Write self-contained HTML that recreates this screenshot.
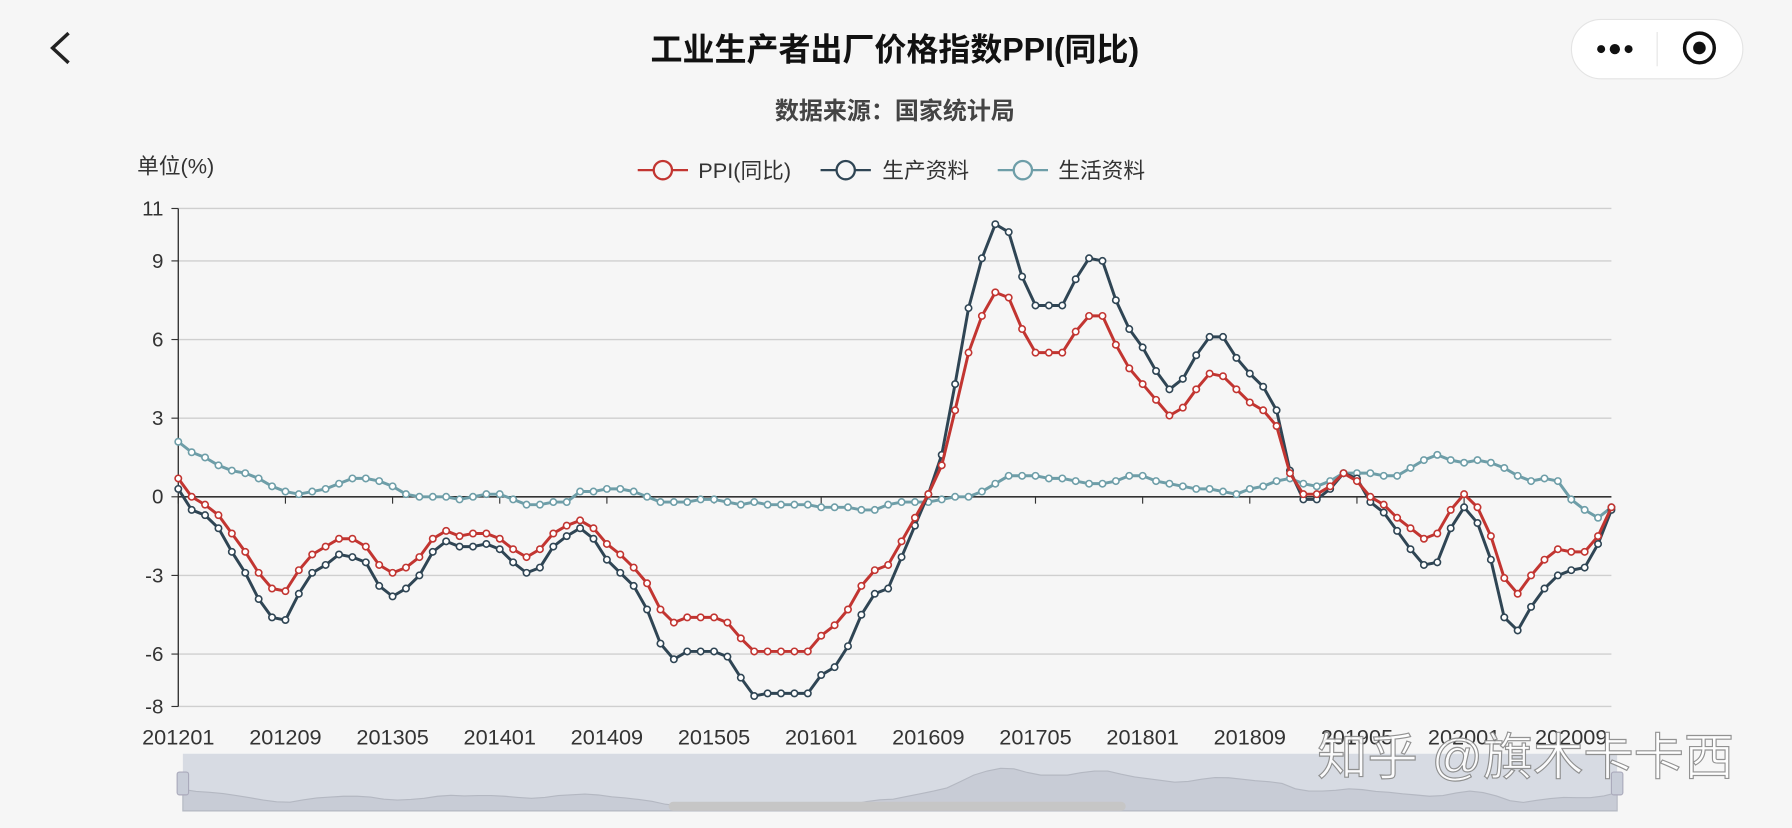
<!DOCTYPE html>
<html><head><meta charset="utf-8"><style>
html,body{margin:0;padding:0;background:#f6f6f6;}
svg{display:block;font-family:"Liberation Sans","Noto Sans CJK SC",sans-serif;}
</style></head><body>
<svg id="s" width="1792" height="828" viewBox="0 0 1568 725" preserveAspectRatio="none" xmlns="http://www.w3.org/2000/svg">
<rect width="1568" height="725" fill="#f6f6f6"/>
<path d="M60 29 L46 42 L60 55" fill="none" stroke="#222" stroke-width="3"/>
<text x="783" y="53" text-anchor="middle" font-size="28" font-weight="bold" fill="#111">工业生产者出厂价格指数PPI(同比)</text>
<rect x="1375" y="17" width="150" height="52" rx="26" fill="#fff" stroke="#e4e4e4"/>
<line x1="1450" y1="28" x2="1450" y2="58" stroke="#e4e4e4"/>
<circle cx="1401" cy="43" r="3.5" fill="#111"/><circle cx="1413" cy="43" r="4.5" fill="#111"/><circle cx="1425" cy="43" r="3.5" fill="#111"/>
<circle cx="1487" cy="42" r="13" fill="none" stroke="#111" stroke-width="3"/><circle cx="1487" cy="42" r="5.5" fill="#111"/>
<text x="783" y="104" text-anchor="middle" font-size="21" font-weight="bold" fill="#444">数据来源：国家统计局</text>
<text x="120" y="152" font-size="19" fill="#333">单位(%)</text>
<g font-size="19" fill="#333">
<line x1="558" y1="149" x2="602" y2="149" stroke="#c23531" stroke-width="2"/><circle cx="580" cy="149" r="8" fill="#f6f6f6" stroke="#c23531" stroke-width="2"/><text x="611" y="156">PPI(同比)</text>
<line x1="718" y1="149" x2="762" y2="149" stroke="#2f4554" stroke-width="2"/><circle cx="740" cy="149" r="8" fill="#f6f6f6" stroke="#2f4554" stroke-width="2"/><text x="772" y="156">生产资料</text>
<line x1="873" y1="149" x2="917" y2="149" stroke="#6e9ea8" stroke-width="2"/><circle cx="895" cy="149" r="8" fill="#f6f6f6" stroke="#6e9ea8" stroke-width="2"/><text x="926" y="156">生活资料</text>
</g>
<g id="grid"></g>
<g id="series"></g>
<rect x="160" y="660" width="1255" height="50" fill="#d7dbe3"/>
<path id="zshadow" fill="#c8ccd6" stroke="#b4b8c2" stroke-width="1"/>
<rect x="155" y="676" width="10" height="20" rx="2" fill="#c8cdd8" stroke="#aab"/>
<rect x="1410" y="676" width="10" height="20" rx="2" fill="#c8cdd8" stroke="#aab"/>
<rect x="585" y="702" width="400" height="8" rx="4" fill="#c6c6c6"/>
<text x="1335" y="678" text-anchor="middle" font-size="44" fill="#fff" stroke="#888" stroke-width="1" opacity="0.9">知乎 @旗木卡卡西</text>
</svg>
<script>
var ppi=[0.7,0.0,-0.3,-0.7,-1.4,-2.1,-2.9,-3.5,-3.6,-2.8,-2.2,-1.9,-1.6,-1.6,-1.9,-2.6,-2.9,-2.7,-2.3,-1.6,-1.3,-1.5,-1.4,-1.4,-1.6,-2.0,-2.3,-2.0,-1.4,-1.1,-0.9,-1.2,-1.8,-2.2,-2.7,-3.3,-4.3,-4.8,-4.6,-4.6,-4.6,-4.8,-5.4,-5.9,-5.9,-5.9,-5.9,-5.9,-5.3,-4.9,-4.3,-3.4,-2.8,-2.6,-1.7,-0.8,0.1,1.2,3.3,5.5,6.9,7.8,7.6,6.4,5.5,5.5,5.5,6.3,6.9,6.9,5.8,4.9,4.3,3.7,3.1,3.4,4.1,4.7,4.6,4.1,3.6,3.3,2.7,0.9,0.1,0.1,0.4,0.9,0.6,0.0,-0.3,-0.8,-1.2,-1.6,-1.4,-0.5,0.1,-0.4,-1.5,-3.1,-3.7,-3.0,-2.4,-2.0,-2.1,-2.1,-1.5,-0.4];
var prod=[0.3,-0.5,-0.7,-1.2,-2.1,-2.9,-3.9,-4.6,-4.7,-3.7,-2.9,-2.6,-2.2,-2.3,-2.5,-3.4,-3.8,-3.5,-3.0,-2.1,-1.7,-1.9,-1.9,-1.8,-2.0,-2.5,-2.9,-2.7,-1.9,-1.5,-1.2,-1.6,-2.4,-2.9,-3.4,-4.3,-5.6,-6.2,-5.9,-5.9,-5.9,-6.1,-6.9,-7.6,-7.5,-7.5,-7.5,-7.5,-6.8,-6.5,-5.7,-4.5,-3.7,-3.5,-2.3,-1.1,0.1,1.6,4.3,7.2,9.1,10.4,10.1,8.4,7.3,7.3,7.3,8.3,9.1,9.0,7.5,6.4,5.7,4.8,4.1,4.5,5.4,6.1,6.1,5.3,4.7,4.2,3.3,1.0,-0.1,-0.1,0.3,0.9,0.7,-0.2,-0.6,-1.3,-2.0,-2.6,-2.5,-1.2,-0.4,-1.0,-2.4,-4.6,-5.1,-4.2,-3.5,-3.0,-2.8,-2.7,-1.8,-0.5];
var liv=[2.1,1.7,1.5,1.2,1.0,0.9,0.7,0.4,0.2,0.1,0.2,0.3,0.5,0.7,0.7,0.6,0.4,0.1,0.0,0.0,0.0,-0.1,0.0,0.1,0.1,-0.1,-0.3,-0.3,-0.2,-0.2,0.2,0.2,0.3,0.3,0.2,0.0,-0.2,-0.2,-0.2,-0.1,-0.1,-0.2,-0.3,-0.2,-0.3,-0.3,-0.3,-0.3,-0.4,-0.4,-0.4,-0.5,-0.5,-0.3,-0.2,-0.2,-0.2,-0.1,0.0,0.0,0.2,0.5,0.8,0.8,0.8,0.7,0.7,0.6,0.5,0.5,0.6,0.8,0.8,0.6,0.5,0.4,0.3,0.3,0.2,0.1,0.3,0.4,0.6,0.7,
0.5,0.4,0.6,0.9,0.9,0.9,0.8,0.8,1.1,1.4,1.6,1.4,1.3,1.4,1.3,1.1,0.8,0.6,0.7,0.6,-0.1,-0.5,-0.8,-0.4];
var NS="http://www.w3.org/2000/svg";
function X(i){return 156+i*(1410-156)/107;}
function Y(v){return 435-v*22.95;}
function el(t,a,p){var e=document.createElementNS(NS,t);for(var k in a)e.setAttribute(k,a[k]);if(p)p.appendChild(e);return e;}
var g=document.getElementById('grid');
[11,9,6,3,-3,-6,-8].forEach(function(v){el('line',{x1:156,x2:1410,y1:Y(v),y2:Y(v),stroke:'#cfcfcf','stroke-width':1.2},g);});
[11,9,6,3,0,-3,-6,-8].forEach(function(v){el('line',{x1:150,x2:156,y1:Y(v),y2:Y(v),stroke:'#333'},g);var t=el('text',{x:143,y:Y(v)+6,'text-anchor':'end','font-size':18,fill:'#333'},g);t.textContent=v;});
el('line',{x1:156,x2:156,y1:Y(11),y2:Y(-8),stroke:'#333','stroke-width':1.2},g);
el('line',{x1:156,x2:1410,y1:435,y2:435,stroke:'#333','stroke-width':1.5},g);
var labs=['201201','201209','201305','201401','201409','201505','201601','201609','201705','201801','201809','201905','202001','202009'];
labs.forEach(function(l,k){var x=X(k*8);el('line',{x1:x,x2:x,y1:435,y2:441,stroke:'#333'},g);var t=el('text',{x:x,y:652,'text-anchor':'middle','font-size':19,fill:'#333'},g);t.textContent=l;});
var s=document.getElementById('series');
[[liv,'#6e9ea8'],[prod,'#2f4554'],[ppi,'#c23531']].forEach(function(d){
 var pts=d[0].map(function(v,i){return X(i).toFixed(1)+','+Y(v).toFixed(1);}).join(' ');
 el('polyline',{points:pts,fill:'none',stroke:d[1],'stroke-width':2.6},s);
 d[0].forEach(function(v,i){el('circle',{cx:X(i),cy:Y(v),r:2.8,fill:'#fff',stroke:d[1],'stroke-width':1.4},s);});
});
var p='M160 710 ';ppi.forEach(function(v,i){p+='L'+(160+i*1255/107).toFixed(1)+' '+(693-v*2.6).toFixed(1)+' ';});p+='L1415 710 Z';
document.getElementById('zshadow').setAttribute('d',p);
</script>
</body></html>
